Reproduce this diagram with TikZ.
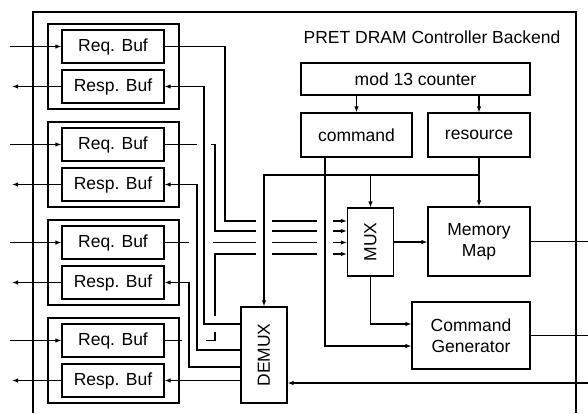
\documentclass[tikz,border=0pt]{standalone}
\usepackage{fontspec}
\setmainfont{Liberation Sans}
\usepackage{graphicx}
\usetikzlibrary{arrows.meta}

\tikzset{
  box/.style={draw, inner sep=0pt, align=center},
  buf/.style={box, minimum width=102pt, minimum height=33pt},
  grp/.style={draw, minimum width=131pt, minimum height=85pt},
}

\begin{document}
\begin{tikzpicture}[x=1pt,y=-1pt,line width=1.2pt,>={Latex[length=6pt,width=4.5pt]},
    every node/.style={font=\fontsize{17.5}{21}\selectfont}]
    \useasboundingbox (0,0) rectangle (588,413);

    % controller frame
    \draw (33,413) |- (576,12) -- (576,413);
    \node (title) at (432,37) {PRET DRAM Controller Backend};

    % request / response buffers
    \foreach \i/\y in {1/66.5,2/164.5,3/262.5,4/360.5} {
      \node[grp] (grp\i) at (113.5,\y) {};
      \node[buf] (req\i) at (113,\y-20) {Req. Buf};
      \node[buf] (resp\i) at (113,\y+20) {Resp. Buf};
      \draw[->] (req\i.west -| 10,0) -- (req\i.west);
      \draw[->] (resp\i.west) -- (resp\i.west -| 12,0);
    }

    % backend blocks
    \node[box, minimum width=229pt, minimum height=32pt] (cnt) at (415.5,79) {mod 13 counter};
    \node[box, minimum width=111pt, minimum height=44pt] (cmd) at (356.5,135) {command};
    \node[box, minimum width=102pt, minimum height=44pt] (res) at (479,135) {resource};
    \node[box, minimum width=46pt, minimum height=68pt] (mux) at (370.5,242) {\rotatebox{90}{MUX}};
    \node[box, minimum width=102pt, minimum height=69pt] (mm) at (479,241.5) {Memory\\Map};
    \node[box, minimum width=118pt, minimum height=67pt] (cg) at (471,335.5) {Command\\Generator};
    \node[box, minimum width=46pt, minimum height=96pt] (demux) at (264,355) {\rotatebox{90}{DEMUX}};

    \coordinate (selrow) at (0,175);
    \coordinate (edge) at (588,0);
    \coordinate (dmin) at ([yshift=-28pt]demux.east);

    \draw[->] (cmd.north |- cnt.south) -- (cmd.north);
    \draw[->] (res.north |- cnt.south) -- (res.north);
    \draw[->] (res.south) -- (mm.north);
    \draw[->] (res.south |- selrow) -| (demux.north);
    \draw[->] (mux.north |- selrow) -- (mux.north);
    \draw[->] (mux.east) -- (mux.east -| mm.west);
    \draw[->] (mux.south) |- ([yshift=11.5pt]cg.west);
    \draw[->] ([xshift=-31.5pt]cmd.south) |- ([yshift=-10.5pt]cg.west);
    \draw (mm.east) -- (mm.east -| edge);
    \draw (cg.east) -- (cg.east -| edge);
    \draw[->] (edge |- dmin) -- (dmin);

    % requests into the mux (broken where wires cross)
    \draw (req1.east) -| (225,221) -- (256,221);
    \draw (req2.east) -- (197,144.5);
    \draw (211,144.5) -| (215,231) -- (256,231);
    \draw (req3.east) -- (189,242.5);
    \draw (213,242.5) -- (256,242.5);
    \draw (req4.east) -- (182,340.5);
    \draw (206,340.5) -| (215,332);
    \draw (215,316) -- (215,254) -- (256,254);
    \foreach \y in {221,231,242.5,254} {
      \draw (272,\y) -- (317,\y);
      \draw[->] (333,\y) -- (mux.west |- 0,\y);
    }

    % responses out of the demux
    \draw[<-] (resp1.east) -| (204,324) -- (demux.west |- 0,324);
    \draw[<-] (resp2.east) -| (197,350) -- (demux.west |- 0,350);
    \draw[<-] (resp3.east) -| (189,367) -- (demux.west |- 0,367);
    \draw[<-] (resp4.east) -- (resp4.east -| demux.west);
\end{tikzpicture}
\end{document}
